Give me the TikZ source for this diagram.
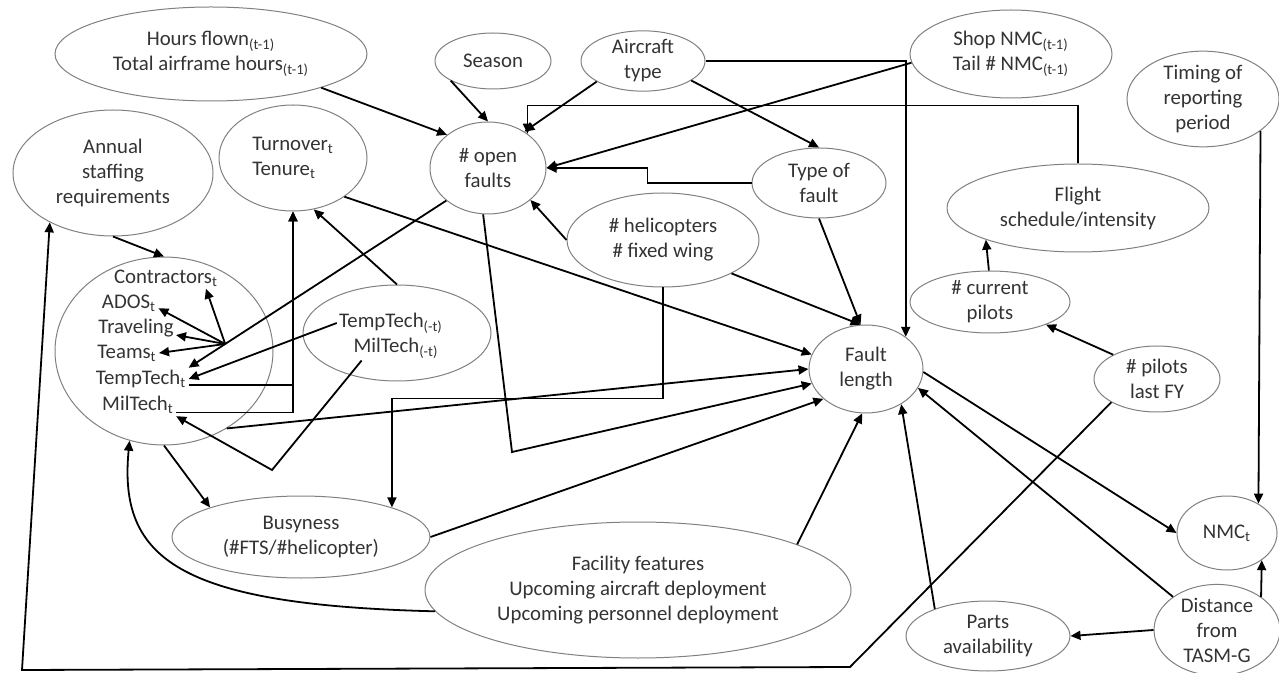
\documentclass[tikz,border=0pt]{standalone}
\usepackage{fontspec}
\setmainfont{Carlito}
\usetikzlibrary{shapes.geometric}
\usetikzlibrary{arrows.meta}
\usetikzlibrary{calc}

\begin{document}
\begin{tikzpicture}[x=0.5pt, y=-0.5pt,
    font=\fontsize{10.4}{12.5}\selectfont,
    var/.style={draw=gray, ellipse, line width=0.5pt, inner sep=0pt, align=center, text=black!80},
    lbl/.style={inner sep=1pt, text=black!80},
    arr/.style={draw, line width=0.9pt, -{Triangle[length=5pt, width=4.5pt]}}]
    \useasboundingbox (0,0) rectangle (1279,673);

    \node (hours) [var, minimum width=156pt, minimum height=47pt] at (211,54) {Hours flown\textsubscript{(t-1)}\\Total airframe hours\textsubscript{(t-1)}};
    \node (asr) [var, minimum width=100pt, minimum height=63pt] at (113,173) {Annual\\staffing\\requirements};
    \node (turn) [var, align=left, minimum width=74pt, minimum height=53pt] at (293,158) {Turnover\textsubscript{t}\\Tenure\textsubscript{t}};
    \node (season) [var, minimum width=58pt, minimum height=28pt] at (493,61) {Season};
    \node (actype) [var, minimum width=62pt, minimum height=28pt] at (643,61) {Aircraft\\type};
    \node (openf) [var, minimum width=58pt, minimum height=46pt] at (488,168) {\# open\\faults};
    \node (tfault) [var, minimum width=67pt, minimum height=35pt] at (819,183) {Type of\\fault};
    \node (shop) [var, minimum width=101pt, minimum height=44pt] at (1011,54) {Shop NMC\textsubscript{(t-1)}\\Tail \# NMC\textsubscript{(t-1)}};
    \node (timing) [var, minimum width=76pt, minimum height=44pt] at (1203,99) {Timing of\\reporting\\period};
    \node (flight) [var, minimum width=131pt, minimum height=44pt] at (1078,208) {Flight\\schedule/intensity};
    \node (curpil) [var, minimum width=80pt, minimum height=31pt] at (990,302) {\# current\\pilots};
    \node (pilots) [var, minimum width=63pt, minimum height=33pt] at (1157,379) {\# pilots\\last FY};
    \node (fault) [var, minimum width=57pt, minimum height=44pt] at (866,369) {Fault\\length};
    \node (heli) [var, minimum width=96pt, minimum height=47pt] at (663,240) {\# helicopters\\\# fixed wing};

    \node (staff) [var, minimum width=109pt, minimum height=94pt] at (164,351) {};
    \node (contr) [lbl] at (166,278) {Contractors\textsubscript{t}};
    \node (ados) [lbl] at (129,303) {ADOS\textsubscript{t}};
    \node (trav) [lbl] at (136,328) {Traveling};
    \node (teams) [lbl] at (127,353) {Teams\textsubscript{t}};
    \node (temptech) [lbl] at (141,379) {TempTech\textsubscript{t}};
    \node (miltech) [lbl] at (138,405) {MilTech\textsubscript{t}};

    \node (lag) [var, minimum width=94pt, minimum height=48pt] at (397,333) {};
    \node (ttlag) [lbl] at (391,323) {TempTech\textsubscript{(-t)}};
    \node (mtlag) [lbl] at (396,348) {MilTech\textsubscript{(-t)}};

    \node (busy) [var, minimum width=129pt, minimum height=41pt] at (301,537) {Busyness\\(\#FTS/\#helicopter)};
    \node (facil) [var, minimum width=213pt, minimum height=68pt] at (638,590) {Facility features\\Upcoming aircraft deployment\\Upcoming personnel deployment};
    \node (nmc) [var, minimum width=50pt, minimum height=37pt] at (1227,533) {NMC\textsubscript{t}};
    \node (parts) [var, minimum width=82pt, minimum height=35pt] at (988,636) {Parts\\availability};
    \node (dist) [var, minimum width=63pt, minimum height=45pt] at (1217,630) {Distance\\from\\TASM-G};

    \coordinate (lowR) at (850,667);
    \coordinate (lowL) at (22,670);
    \coordinate (vbend) at (272,470);
    \coordinate (obend) at (512,452);
    \coordinate (hub) at ($(openf.218)!0.858!(temptech.north east)$);

    \draw[arr] (hours.-17) -- (openf.141);
    \draw[arr] (season.205) -- (openf.north);
    \draw[arr] (actype.204) -- (openf.45);
    \draw[arr] (actype.-22) -- (tfault.north);
    \draw[arr] (actype.east) -| (fault.39);
    \draw[arr] (shop.185) -- (openf.east);
    \draw[arr] (flight.north) -- ++(0,-58) -| (openf.41);
    \draw[arr] (tfault.west) -- ++(-104,0) |- (openf.east);
    \draw[arr] (tfault.south) -- (fault.97);
    \draw[arr] (heli.west) -- (openf.-37);
    \draw[arr] (heli.-26) -- (fault.97);
    \draw[arr] (heli.south) -- ++(0,111) -| (busy.18);

    \draw[arr] (openf.218) -- (temptech.north east);
    \draw[arr] (hub) -- (contr.-15);
    \draw[arr] (hub) -- (ados.-10);
    \draw[arr] (hub) -- (trav.-10);
    \draw[arr] (hub) -- (teams.east);
    \draw[arr] (ttlag.west) -- (temptech.east);
    \draw[arr] (mtlag.200) -- (vbend) -- (miltech.south east);
    \draw[arr] (temptech.-7) -| (turn.south);
    \draw[arr] (miltech.-11) -| (turn.south);
    \draw[arr] (lag.north) -- (turn.-68);
    \draw[arr] (asr.south) -- (staff.north);
    \draw[arr] (pilots.207) -- (lowR) -- (lowL) -- (asr.218);
    \draw[arr] (facil.186) .. controls (180,605) and (118,560) .. (staff.-111);
    \draw[arr] (staff.south) -- (busy.162);

    \draw[arr] (turn.-37) -- (fault.165);
    \draw[arr] (staff.-51) -- (fault.180);
    \draw[arr] (openf.-96) -- (obend) -- (fault.195);
    \draw[arr] (busy.east) -- (fault.215);
    \draw[arr] (facil.16) -- (fault.-95);
    \draw[arr] (parts.153) -- (fault.-45);
    \draw[arr] (dist.143) -- (fault.-20);
    \draw[arr] (fault.-3) -- (nmc.west);
    \draw[arr] (timing.-29) -- (nmc.43);
    \draw[arr] (dist.37) -- (nmc.-38);
    \draw[arr] (dist.180) -- (parts.east);
    \draw[arr] (pilots.151) -- (curpil.-22);
    \draw[arr] (curpil.92) -- (flight.199);
\end{tikzpicture}
\end{document}
